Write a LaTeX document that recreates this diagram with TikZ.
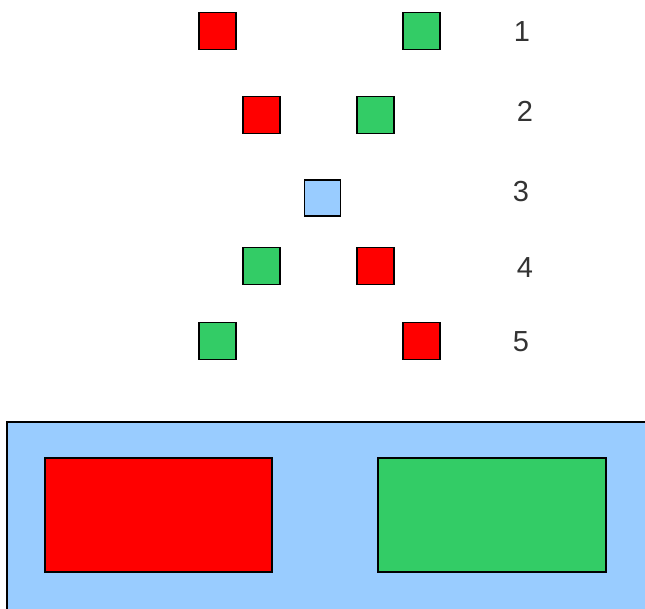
\documentclass[tikz,border=0pt]{standalone}
\usepackage{fontspec}
\setmainfont{Liberation Sans}
\definecolor{sqred}{HTML}{FF0000}
\definecolor{sqgreen}{HTML}{33CC66}
\definecolor{sqblue}{HTML}{99CCFF}
\begin{document}
\begin{tikzpicture}[x=1pt,y=-1pt,
  sq/.style={draw=black,line width=1.4pt,minimum size=37pt,inner sep=0pt,outer sep=0pt},
  lbl/.style={font=\fontsize{29}{34}\selectfont,text=black!80,inner sep=0pt},
  bigrect/.style={draw=black,line width=1.4pt}]
\useasboundingbox (0,0) rectangle (645,609);
\clip (0,0) rectangle (645,609);
\fill[white] (0,0) rectangle (645,609);
% row 1
\node[sq,fill=sqred] (r1) at (217.5,31) {};
\node[sq,fill=sqgreen] (g1) at (421.5,31) {};
\node[lbl] (l1) at (522,32) {1};
% row 2
\node[sq,fill=sqred] (r2) at (261.5,115) {};
\node[sq,fill=sqgreen] (g2) at (375.5,115) {};
\node[lbl] (l2) at (525,111) {2};
% row 3
\node[sq,fill=sqblue,minimum size=36pt] (b3) at (322.5,198) {};
\node[lbl] (l3) at (521,192) {3};
% row 4
\node[sq,fill=sqgreen] (g4) at (261.5,266) {};
\node[sq,fill=sqred] (r4) at (375.5,266) {};
\node[lbl] (l4) at (525,268) {4};
% row 5
\node[sq,fill=sqgreen] (g5) at (217.5,341) {};
\node[sq,fill=sqred] (r5) at (421.5,341) {};
\node[lbl] (l5) at (521,342) {5};
% bottom panel
\draw[bigrect,fill=sqblue] (7,422) rectangle (660,620);
\draw[bigrect,fill=sqred] (45,458) rectangle (272,572);
\draw[bigrect,fill=sqgreen] (378,458) rectangle (606,572);
\end{tikzpicture}
\end{document}
